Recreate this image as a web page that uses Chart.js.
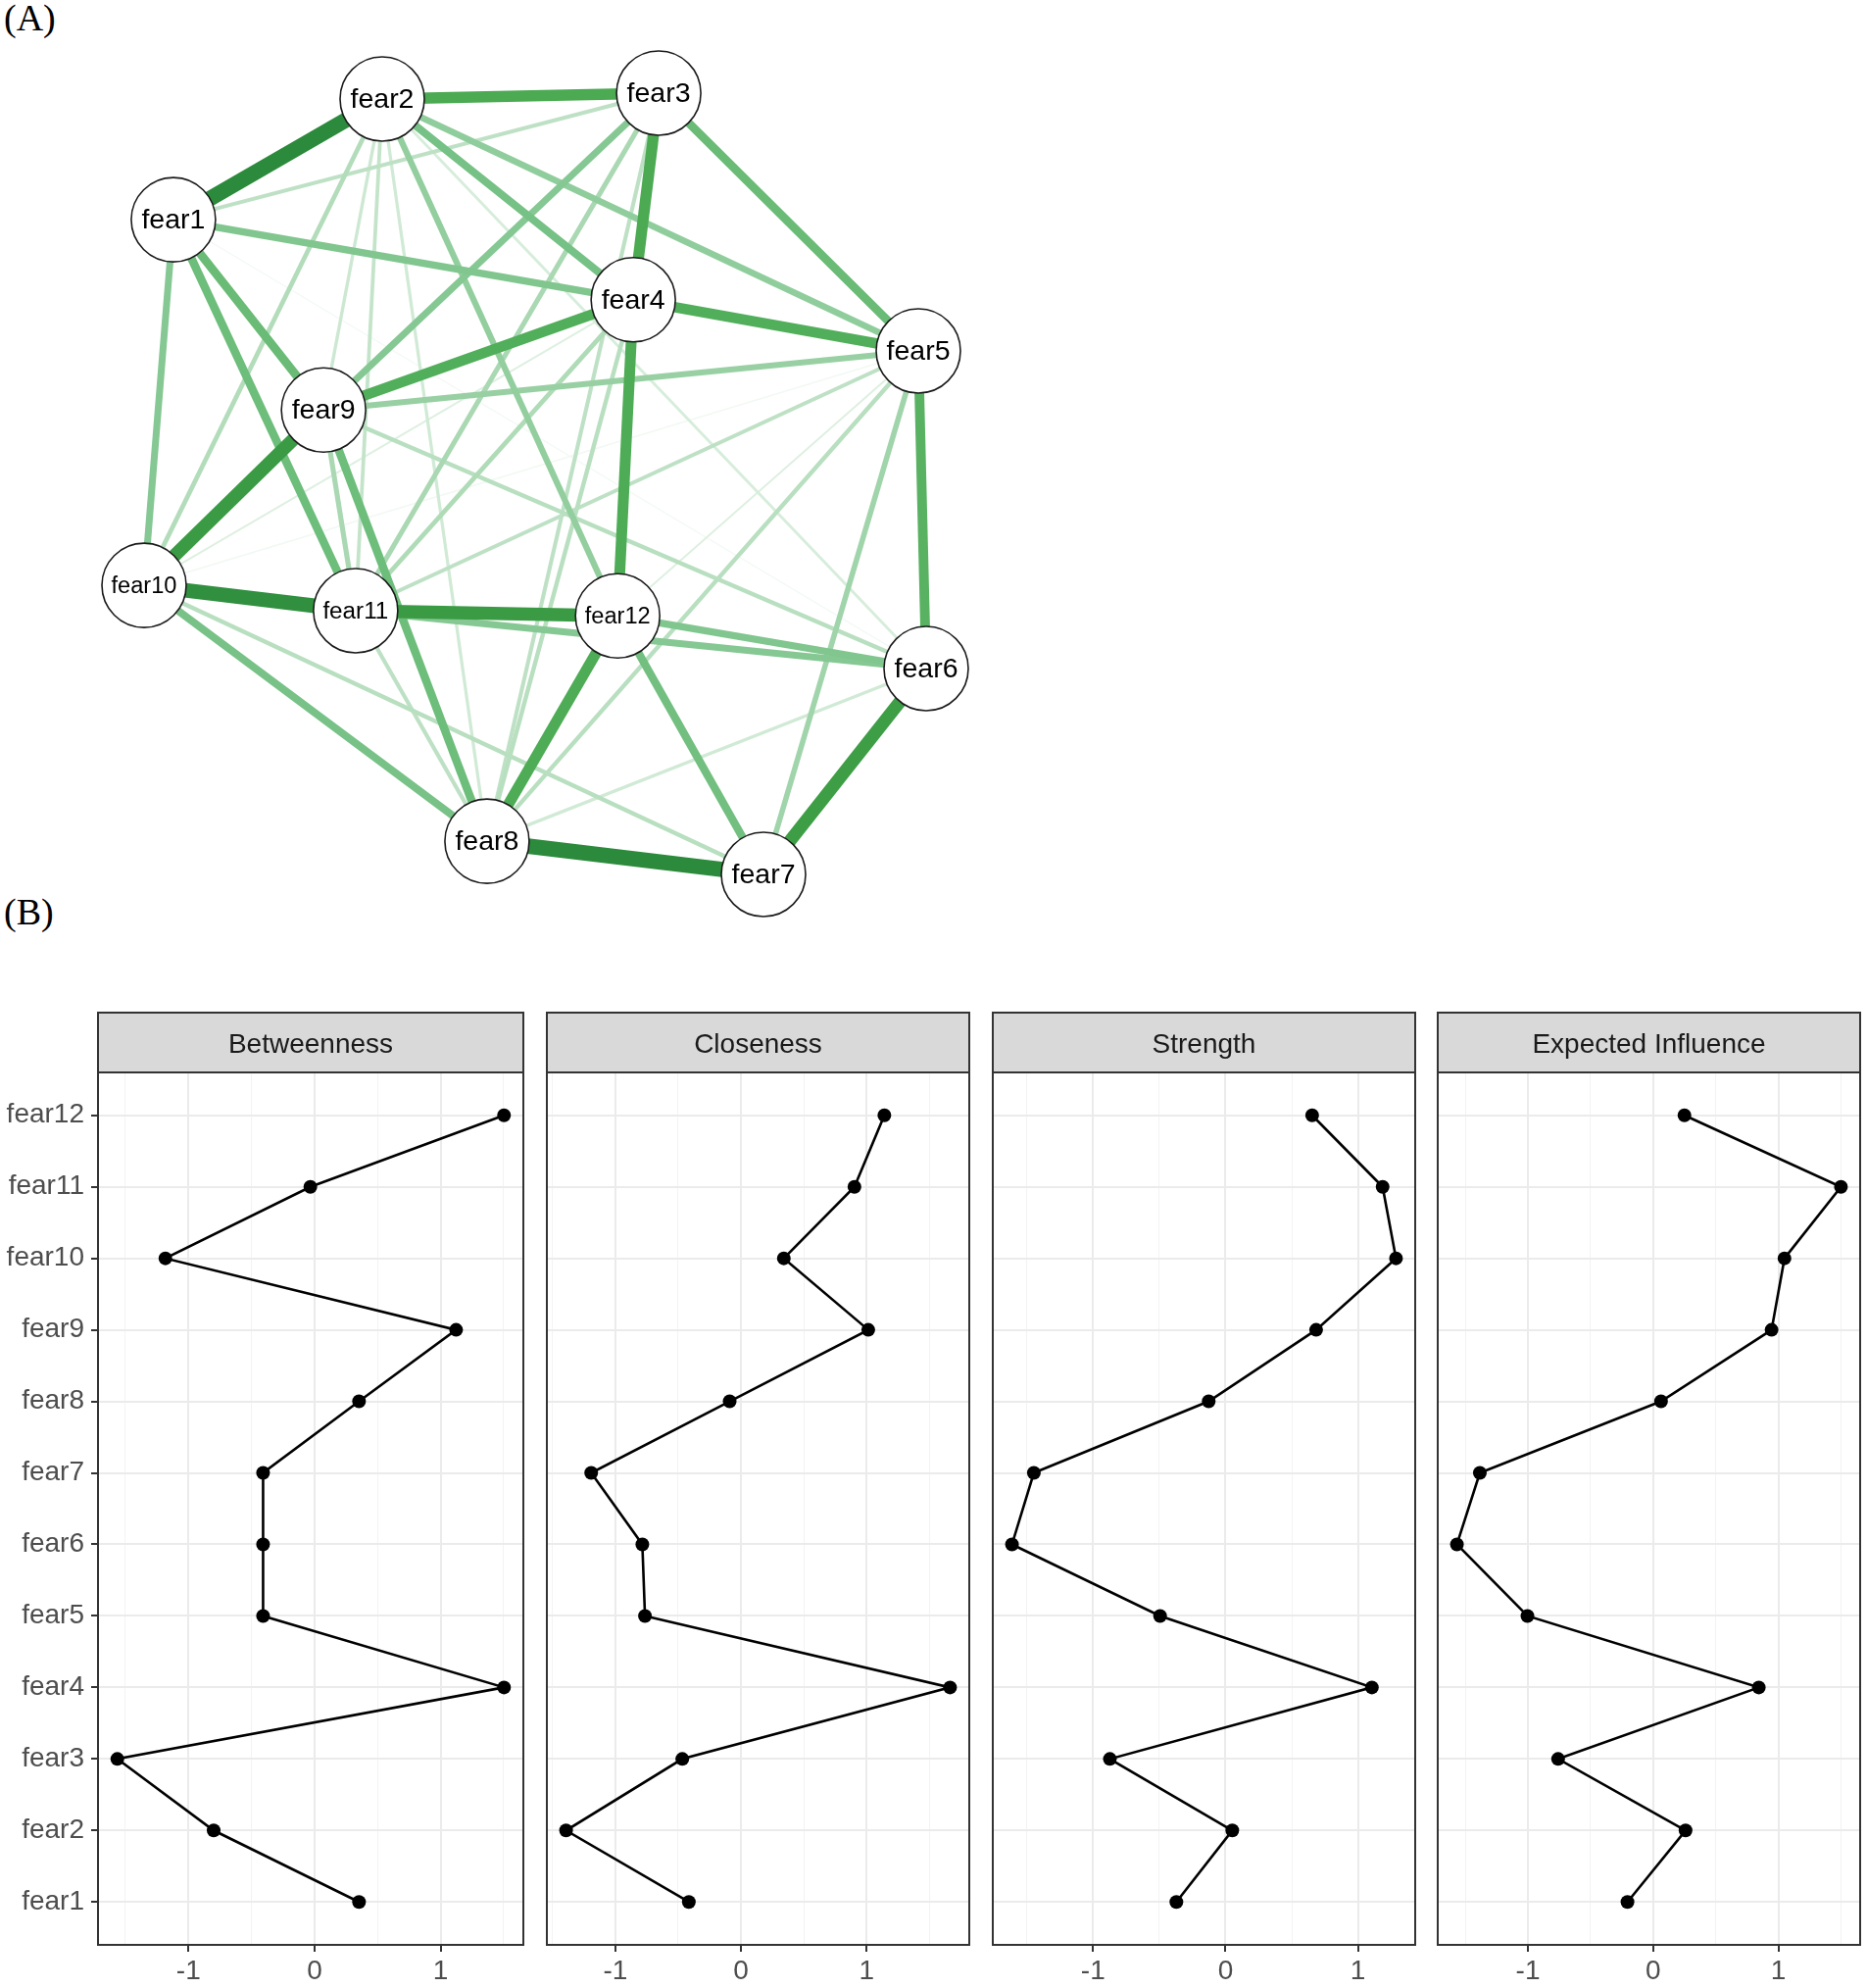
<!DOCTYPE html>
<html>
<head>
<meta charset="utf-8">
<script src="https://cdn.jsdelivr.net/npm/chart.js@4.4.0/dist/chart.umd.min.js"></script>
<style>
  body { margin: 0; background: #fff; width: 1905px; height: 2028px; position: relative; overflow: hidden; }
  .tag { position: absolute; font-family: "Liberation Serif", "Times New Roman", serif; font-size: 38px; color: #000; line-height: 1; }
  .box { position: absolute; }
</style>
</head>
<body>
<div class="tag" style="left:4px;top:-1px">(A)</div>
<div class="tag" style="left:4px;top:911px">(B)</div>
<div class="box" style="left:0;top:0;width:1000px;height:940px"><canvas id="net"></canvas></div>
<div id="panels"></div>

<script>
// ---- Panel A: network (layout coordinates, weights relative to strongest edge)
const nodeNames = ["fear1", "fear2", "fear3", "fear4", "fear5", "fear6",
                   "fear7", "fear8", "fear9", "fear10", "fear11", "fear12"];
const nodeX = [-0.925, -0.391, 0.316, 0.251, 0.980, 1.000, 0.584, -0.123, -0.541, -1.000, -0.459, 0.211];
const nodeY = [0.676, 0.985, 1.000, 0.471, 0.340, -0.473, -1.000, -0.915, 0.189, -0.260, -0.325, -0.338];

const edgeFrom = [1, 7, 10, 9, 11, 6, 2, 3, 4, 8, 4, 4, 5, 1, 3, 1, 2, 8, 7, 1, 8, 3, 6, 2, 6,
                  1, 2, 5, 5, 2, 3, 9, 1, 4, 4, 3, 6, 7, 5, 5, 8, 2, 2, 2, 6, 2, 5, 1, 4, 5];
const edgeTo   = [2, 8, 11, 10, 12, 7, 3, 4, 12, 12, 5, 9, 6, 9, 5, 11, 4, 9, 12, 4, 10, 9, 12, 5, 11,
                  10, 12, 9, 7, 10, 11, 11, 3, 11, 8, 8, 9, 10, 8, 11, 11, 11, 9, 8, 8, 6, 10, 6, 10, 12];
const edgeWeight = [1.00, 1.00, 0.95, 0.85, 0.85, 0.82, 0.70, 0.70, 0.68, 0.68, 0.65, 0.65, 0.60, 0.52, 0.52, 0.50, 0.46, 0.50, 0.48,
                    0.42, 0.45, 0.40, 0.42, 0.36, 0.40, 0.40, 0.35, 0.33, 0.30, 0.24, 0.27, 0.27, 0.20, 0.25, 0.22, 0.20,
                    0.22, 0.22, 0.22, 0.20, 0.20, 0.18, 0.15, 0.14, 0.14, 0.12, 0.04, 0.03, -0.10, -0.10];

// ---- Panel B: centrality indices (z-scores), fear1 .. fear12
const items = nodeNames;
const betweenness = [0.353, -0.800, -1.564, 1.503, -0.408, -0.408, -0.408, 0.353, 1.123, -1.183, -0.033, 1.503];
const closeness = [-0.415, -1.392, -0.467, 1.664, -0.764, -0.785, -1.192, -0.090, 1.013, 0.341, 0.903, 1.141];
const strength = [-0.371, 0.051, -0.873, 1.105, -0.494, -1.612, -1.447, -0.127, 0.684, 1.287, 1.186, 0.654];
const expectedInfluence = [-0.205, 0.259, -0.759, 0.844, -1.004, -1.567, -1.384, 0.063, 0.946, 1.049, 1.500, 0.250];
const measureTitles = ["Betweenness", "Closeness", "Strength", "Expected Influence"];
const measureValues = [betweenness, closeness, strength, expectedInfluence];

// green ramp for positive edges
const ramp = [[0, 255, 255, 255], [0.15, 205, 232, 210], [0.3, 160, 212, 170], [0.45, 120, 194, 135],
              [0.6, 88, 178, 98], [0.75, 68, 166, 74], [1, 44, 138, 60]];

function edgeColor(w) {
  if (w < 0) return "rgb(240,192,197)";
  for (let i = 1; i < ramp.length; i++) {
    if (w <= ramp[i][0]) {
      const a = ramp[i - 1], b = ramp[i];
      const f = (w - a[0]) / (b[0] - a[0]);
      const c = [1, 2, 3].map(k => Math.round(a[k] + (b[k] - a[k]) * f));
      return "rgb(" + c.join(",") + ")";
    }
  }
  return "rgb(44,138,60)";
}

const FONT = "'Liberation Sans', Arial, Helvetica, sans-serif";

let netDatasets = [];
netDatasets.push({
  data: nodeX.map((x, i) => ({ x: x, y: nodeY[i] })),
  pointRadius: 43,
  pointBackgroundColor: "#fff",
  pointBorderColor: "#1a1a1a",
  pointBorderWidth: 1.6,
  showLine: false,
  clip: false,
  order: 0,
});
for (let i = 0; i < edgeFrom.length; i++) {
  const a = edgeFrom[i] - 1, b = edgeTo[i] - 1, w = edgeWeight[i];
  netDatasets.push({
    data: [{ x: nodeX[a], y: nodeY[a] }, { x: nodeX[b], y: nodeY[b] }],
    showLine: true,
    pointRadius: 0,
    borderColor: edgeColor(Math.abs(w)),
    borderWidth: w < 0 ? 2 : 1.2 + 14.5 * w,
    borderCapStyle: "butt",
    clip: false,
    order: 1 + Math.round((1 - Math.abs(w)) * 100),
  });
}

const nodeLabels = {
  id: "nodeLabels",
  afterDatasetsDraw(chart) {
    const ctx = chart.ctx;
    const meta = chart.getDatasetMeta(0);
    ctx.save();
    ctx.fillStyle = "#000";
    ctx.textAlign = "center";
    ctx.textBaseline = "middle";
    meta.data.forEach((pt, i) => {
      let size = 28.5;
      ctx.font = size + "px " + FONT;
      const w = ctx.measureText(nodeNames[i]).width;
      if (w > 67) size = size * 67 / w;
      ctx.font = size + "px " + FONT;
      ctx.fillText(nodeNames[i], pt.x, pt.y + 1);
    });
    ctx.restore();
  },
};

new Chart(document.getElementById("net"), {
  type: "scatter",
  data: { datasets: netDatasets },
  options: {
    responsive: true,
    maintainAspectRatio: false,
    animation: false,
    events: [],
    layout: { padding: { left: 147, right: 55, top: 95, bottom: 48 } },
    plugins: { legend: { display: false }, tooltip: { enabled: false } },
    scales: {
      x: { type: "linear", min: -1, max: 1, display: false },
      y: { type: "linear", min: -1, max: 1, display: false },
    },
  },
  plugins: [nodeLabels],
});

// ---- Panel B facets
const stripPlugin = {
  id: "strip",
  beforeDraw(chart) {
    const a = chart.chartArea, ctx = chart.ctx;
    ctx.save();
    ctx.fillStyle = "#d9d9d9";
    ctx.fillRect(a.left, a.top - 61, a.right - a.left, 61);
    ctx.strokeStyle = "#333";
    ctx.lineWidth = 2;
    ctx.strokeRect(a.left, a.top - 61, a.right - a.left, 61);
    ctx.fillStyle = "#1a1a1a";
    ctx.font = "28px " + FONT;
    ctx.textAlign = "center";
    ctx.textBaseline = "middle";
    ctx.fillText(chart.options.plugins.strip.text, (a.left + a.right) / 2, a.top - 28);
    ctx.restore();
  },
  afterDraw(chart) {
    const a = chart.chartArea, ctx = chart.ctx;
    ctx.save();
    ctx.strokeStyle = "#333";
    ctx.lineWidth = 2;
    ctx.strokeRect(a.left, a.top, a.right - a.left, a.bottom - a.top);
    ctx.restore();
  },
};

const plotLeft = [100, 555, 1010, 1464];
const plotWidth = 437;
const holder = document.getElementById("panels");

measureValues.forEach((vals, p) => {
  const first = p === 0;
  const axisW = first ? 100 : 0;
  const padL = first ? 0 : 4;
  const box = document.createElement("div");
  box.className = "box";
  box.style.left = (plotLeft[p] - axisW - padL) + "px";
  box.style.top = "1028px";
  box.style.width = (axisW + padL + plotWidth + 4) + "px";
  box.style.height = "1000px";
  const cv = document.createElement("canvas");
  box.appendChild(cv);
  holder.appendChild(box);

  const lo = Math.min(...vals), hi = Math.max(...vals);
  const ext = (hi - lo) * 0.05;

  const isMajor = v => Math.abs(v - Math.round(v)) < 1e-9;

  new Chart(cv, {
    type: "scatter",
    data: {
      datasets: [{
        data: vals.map((v, i) => ({ x: v, y: i + 1 })),
        showLine: true,
        borderColor: "#000",
        borderWidth: 2.6,
        pointRadius: 7,
        pointBackgroundColor: "#000",
        pointBorderWidth: 0,
        clip: false,
      }],
    },
    options: {
      responsive: true,
      maintainAspectRatio: false,
      animation: false,
      events: [],
      layout: { padding: { left: padL, right: 4, top: 66, bottom: 0 } },
      plugins: {
        legend: { display: false },
        tooltip: { enabled: false },
        strip: { text: measureTitles[p] },
      },
      scales: {
        x: {
          type: "linear",
          min: lo - ext,
          max: hi + ext,
          afterFit: s => { s.height = 44; },
          border: { display: false },
          grid: {
            color: c => isMajor(c.tick.value) ? "#ebebeb" : "#f3f3f3",
            lineWidth: c => isMajor(c.tick.value) ? 2 : 1,
            tickColor: c => isMajor(c.tick.value) ? "#333" : "rgba(0,0,0,0)",
            tickWidth: 2,
            tickLength: 7,
          },
          ticks: {
            stepSize: 0.5,
            includeBounds: false,
            autoSkip: false,
            maxRotation: 0,
            padding: 3,
            color: "#4d4d4d",
            font: { family: FONT, size: 28 },
            callback: v => isMajor(v) ? String(Math.round(v)) : "",
          },
        },
        y: {
          type: "linear",
          min: 0.4,
          max: 12.6,
          afterFit: s => { s.width = axisW; },
          border: { display: false },
          grid: {
            color: c => isMajor(c.tick.value) ? "#ebebeb" : "rgba(0,0,0,0)",
            lineWidth: 2,
            drawTicks: first,
            tickColor: "#333",
            tickWidth: 2,
            tickLength: 7,
          },
          ticks: {
            display: first,
            stepSize: 1,
            includeBounds: false,
            autoSkip: false,
            padding: 7,
            color: "#4d4d4d",
            font: { family: FONT, size: 28 },
            callback: v => (isMajor(v) && v >= 1 && v <= 12) ? items[Math.round(v) - 1] : "",
          },
        },
      },
    },
    plugins: [stripPlugin],
  });
});
</script>
</body>
</html>
